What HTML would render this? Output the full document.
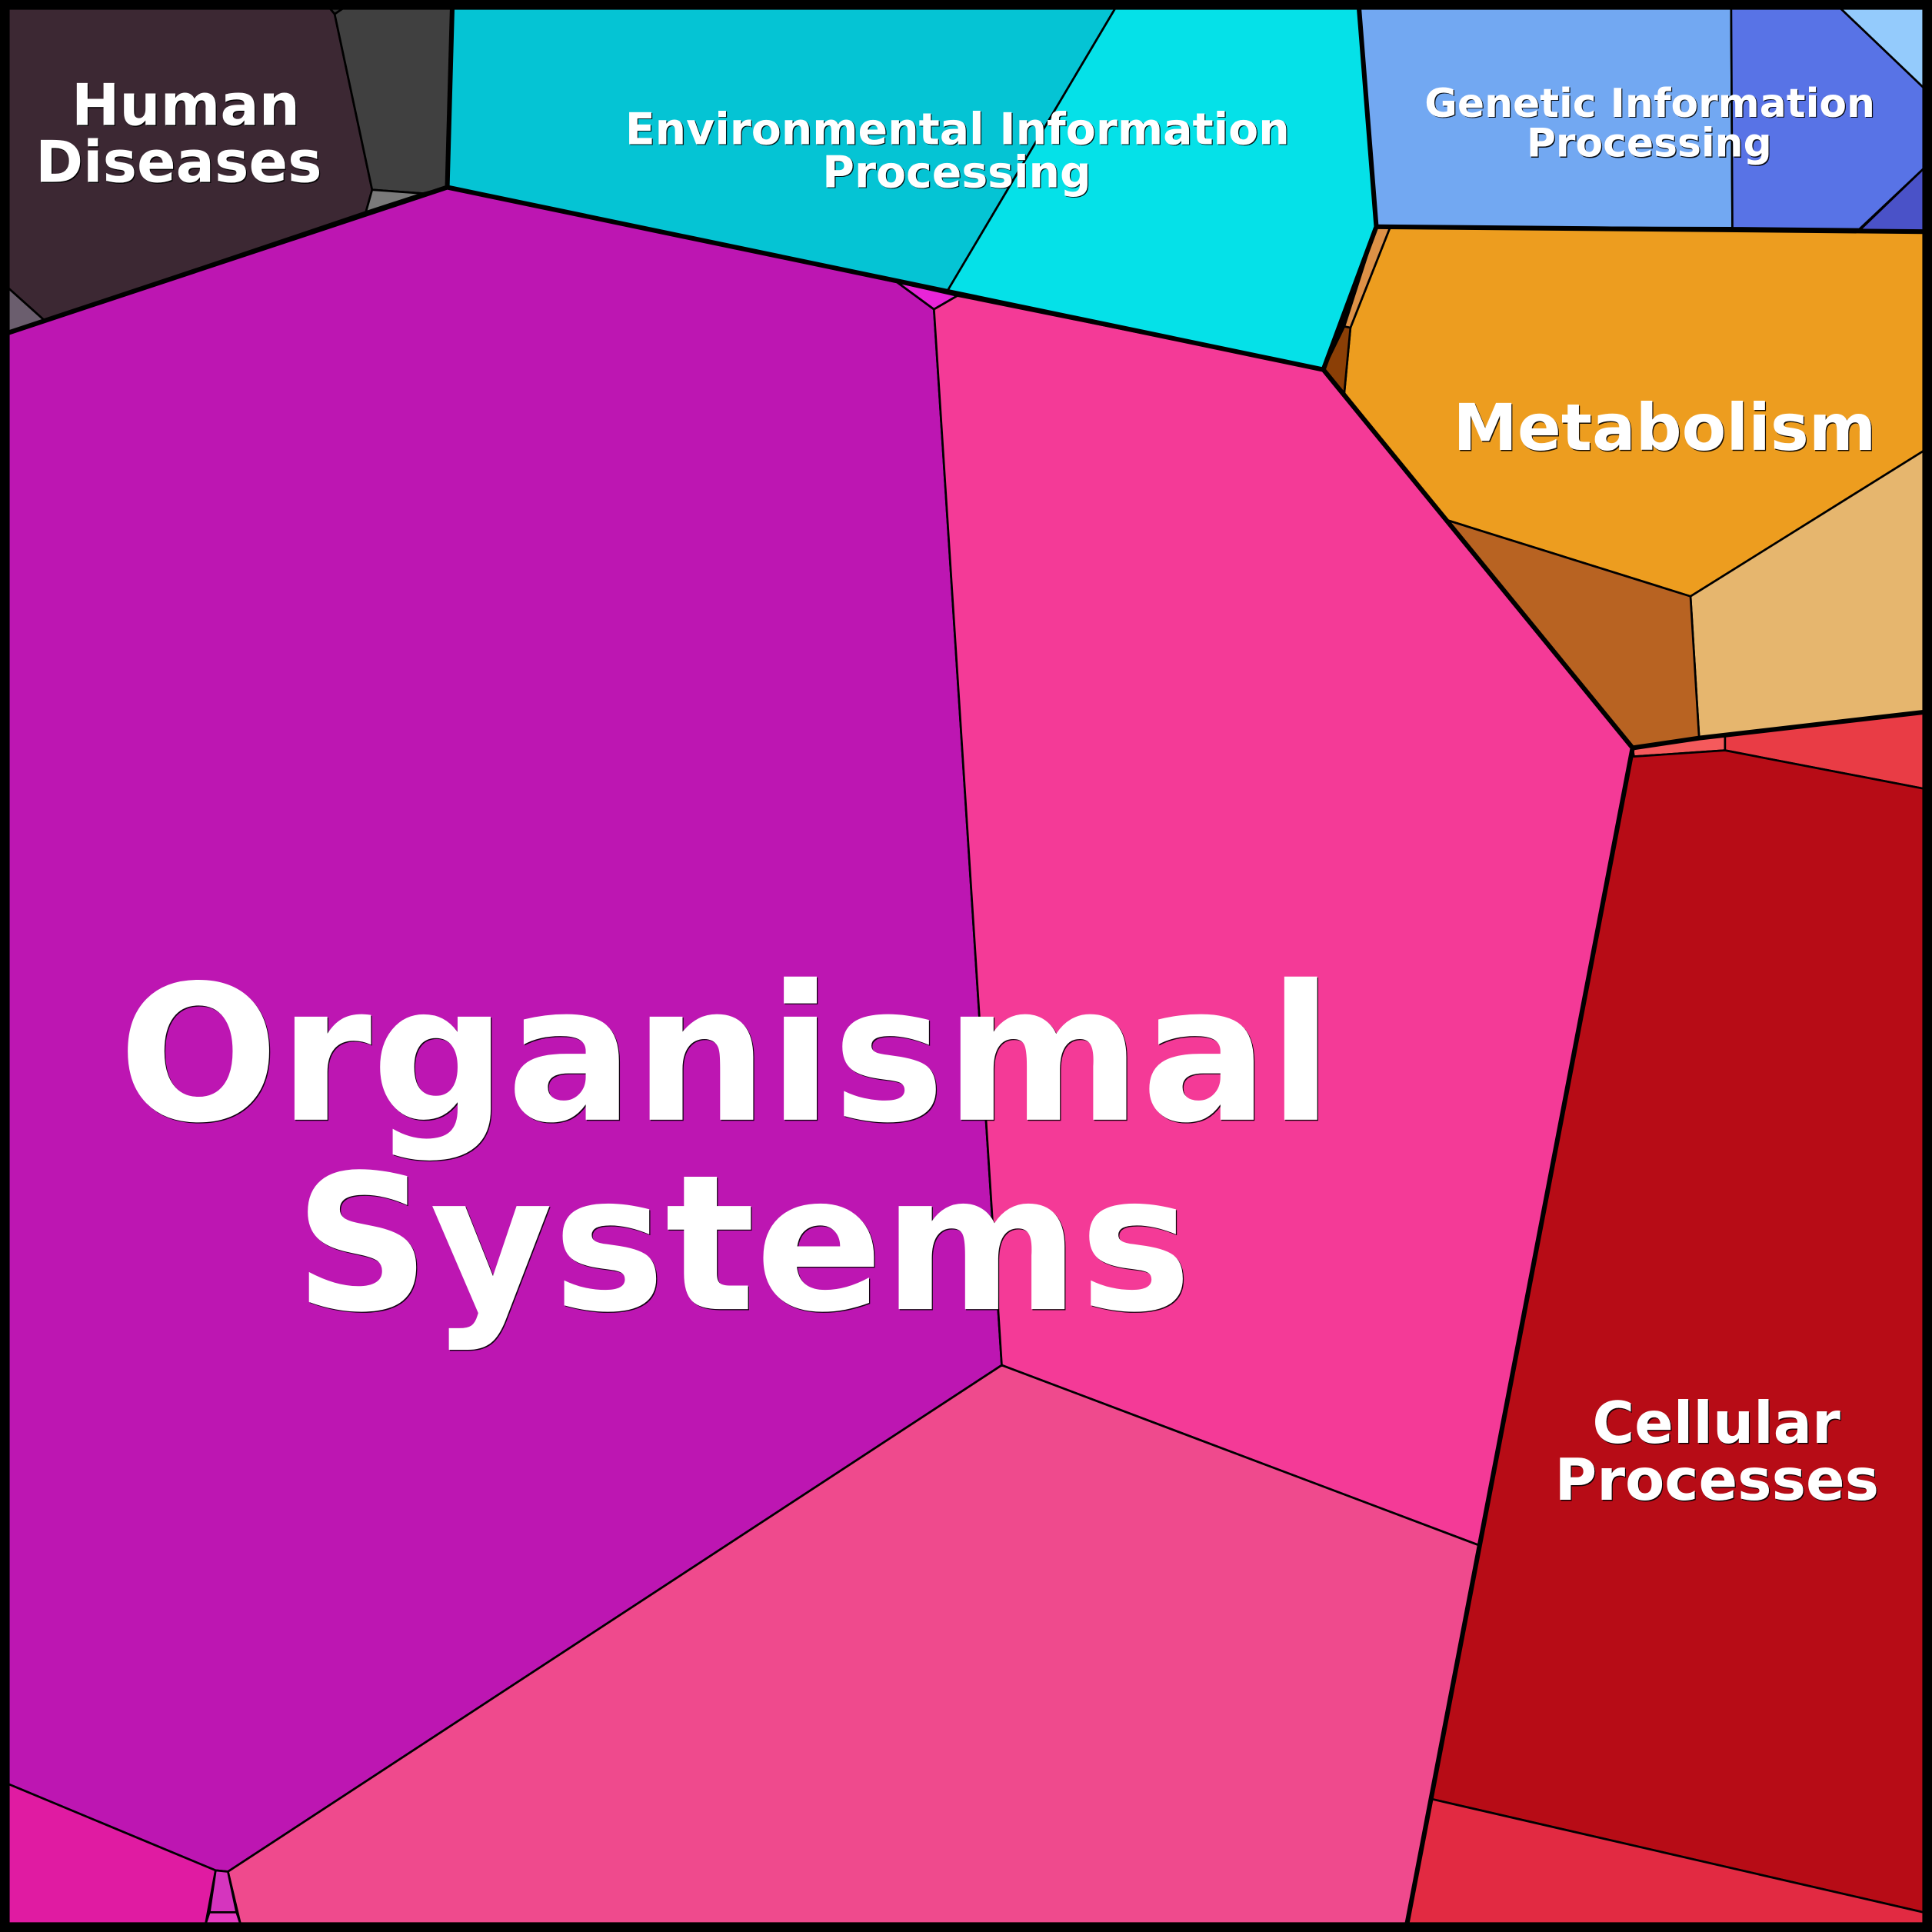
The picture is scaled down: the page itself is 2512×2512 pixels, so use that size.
<!DOCTYPE html>
<html>
<head>
<meta charset="utf-8">
<style>
  html, body { margin: 0; padding: 0; background: #000; }
  svg { display: block; }
  .lbl { font-family: "DejaVu Sans", "Liberation Sans", sans-serif; font-weight: bold; text-anchor: middle; }
</style>
</head>
<body>
<svg xmlns="http://www.w3.org/2000/svg" width="2512" height="2512" viewBox="0 0 1568 1568">
  <g stroke="#000" stroke-width="1.7" stroke-linejoin="round">
    <!-- Human Diseases -->
    <polygon fill="#3c2833" points="7,7 268,7 271.6,11.4 302,154 297,172 36,260 7,234"/>
    <polygon fill="#404040" points="278,7 368,7 363,152 343,157 302,154 271.6,11.4"/>
    <polygon fill="#333333" points="268,7 278,7 271.6,11.4"/>
    <polygon fill="#7a7a7a" points="302,154 343,157 297,172"/>
    <polygon fill="#6b5e6e" points="7,234 36,260 7,270"/>
    <!-- Environmental Information Processing -->
    <polygon fill="#05c4d4" points="367,7 905,7 769,236 728,229 363,152"/>
    <polygon fill="#05e1e8" points="905,7 1103,7 1117,184 1074,300 769,236"/>
    <!-- Genetic Information Processing -->
    <polygon fill="#72a8f2" points="1103,7 1405,7 1406,185 1117,184"/>
    <polygon fill="#5873e6" points="1405,7 1494,7 1561,71 1561,137 1509,186 1406,185"/>
    <polygon fill="#94cbfc" points="1494,7 1561,7 1561,71"/>
    <polygon fill="#4a52c8" points="1561,137 1561,188 1509,187"/>
    <!-- Metabolism -->
    <polygon fill="#ed9d1f" points="1128,185 1561,188 1561,366 1372,484 1174,422 1091,319 1096,266"/>
    <polygon fill="#dd9147" points="1117,184 1128,185 1096,266 1091,265"/>
    <polygon fill="#8b3f06" points="1091,265 1096,266 1091,319 1074,300"/>
    <polygon fill="#e6b66e" points="1372,484 1561,366 1561,578 1379,599"/>
    <polygon fill="#b86322" points="1174,422 1372,484 1379,599 1325,607"/>
    <!-- Cellular Processes -->
    <polygon fill="#f55a5c" points="1325,607 1400,597 1400,609 1326,614"/>
    <polygon fill="#e93c45" points="1400,597 1561,578 1561,640 1400,609"/>
    <polygon fill="#b70c16" points="1326,614 1400,609 1561,640 1561,1552 1161.4,1460 1325,607"/>
    <polygon fill="#e22a42" points="1161.4,1460 1561,1552 1561,1561 1142,1561"/>
    <!-- Organismal Systems -->
    <polygon fill="#bd16b2" points="7,270 363,152 728,229 758,251 813,1108 185,1519 175,1518 7,1448"/>
    <polygon fill="#f43a97" points="777,240 1074,300 1325,607 1200,1254 813,1108 758,251"/>
    <polygon fill="#e825d8" points="728,229 777,240 758,251"/>
    <polygon fill="#ef4a8d" points="813,1108 1200,1254 1142,1561 195,1561 185,1519"/>
    <polygon fill="#e01ba2" points="7,1448 175,1518 167,1561 7,1561"/>
    <polygon fill="#d535be" points="175,1518 185,1519 192,1552 170,1552"/>
    <polygon fill="#e83cc3" points="170,1552 192,1552 195,1561 167,1561"/>
  </g>
  <!-- Category boundaries -->
  <g stroke="#000" stroke-width="3.8" fill="none" stroke-linejoin="round" stroke-linecap="round">
    <polyline points="7,270 363,152 1074,300 1325,607 1142,1561"/>
    <polyline points="363,152 367,7"/>
    <polyline points="1074,300 1117,184 1103,7"/>
    <polyline points="1117,184 1561,188"/>
    <polyline points="1325,607 1379,599 1561,578"/>
  </g>
  <!-- Frame -->
  <rect x="0" y="0" width="1568" height="1568" fill="none" stroke="#000" stroke-width="15"/>

  <!-- Labels: shadow -->
  <g class="lbl" fill="#000" fill-opacity="0.9" transform="translate(0.8,0.8)">
    <text x="150.7" y="101.5" font-size="46.6">Human</text>
    <text x="145" y="147.7" font-size="46.6">Diseases</text>
    <text x="777" y="116.9" font-size="35.5">Environmental Information</text>
    <text x="776.5" y="151.9" font-size="35.5">Processing</text>
    <text x="1339" y="94.8" font-size="32.4">Genetic Information</text>
    <text x="1338.5" y="127.1" font-size="32.4">Processing</text>
    <text x="1351" y="365.2" font-size="52.4">Metabolism</text>
    <text x="1393" y="1171" font-size="46.6">Cellular</text>
    <text x="1393.4" y="1217.2" font-size="46.6">Processes</text>
    <text x="589" y="908.8" font-size="153">Organismal</text>
    <text x="603" y="1062.5" font-size="153">Systems</text>
  </g>
  <!-- Labels: white -->
  <g class="lbl" fill="#ffffff">
    <text x="150.7" y="101.5" font-size="46.6">Human</text>
    <text x="145" y="147.7" font-size="46.6">Diseases</text>
    <text x="777" y="116.9" font-size="35.5">Environmental Information</text>
    <text x="776.5" y="151.9" font-size="35.5">Processing</text>
    <text x="1339" y="94.8" font-size="32.4">Genetic Information</text>
    <text x="1338.5" y="127.1" font-size="32.4">Processing</text>
    <text x="1351" y="365.2" font-size="52.4">Metabolism</text>
    <text x="1393" y="1171" font-size="46.6">Cellular</text>
    <text x="1393.4" y="1217.2" font-size="46.6">Processes</text>
    <text x="589" y="908.8" font-size="153">Organismal</text>
    <text x="603" y="1062.5" font-size="153">Systems</text>
  </g>
</svg>
</body>
</html>
